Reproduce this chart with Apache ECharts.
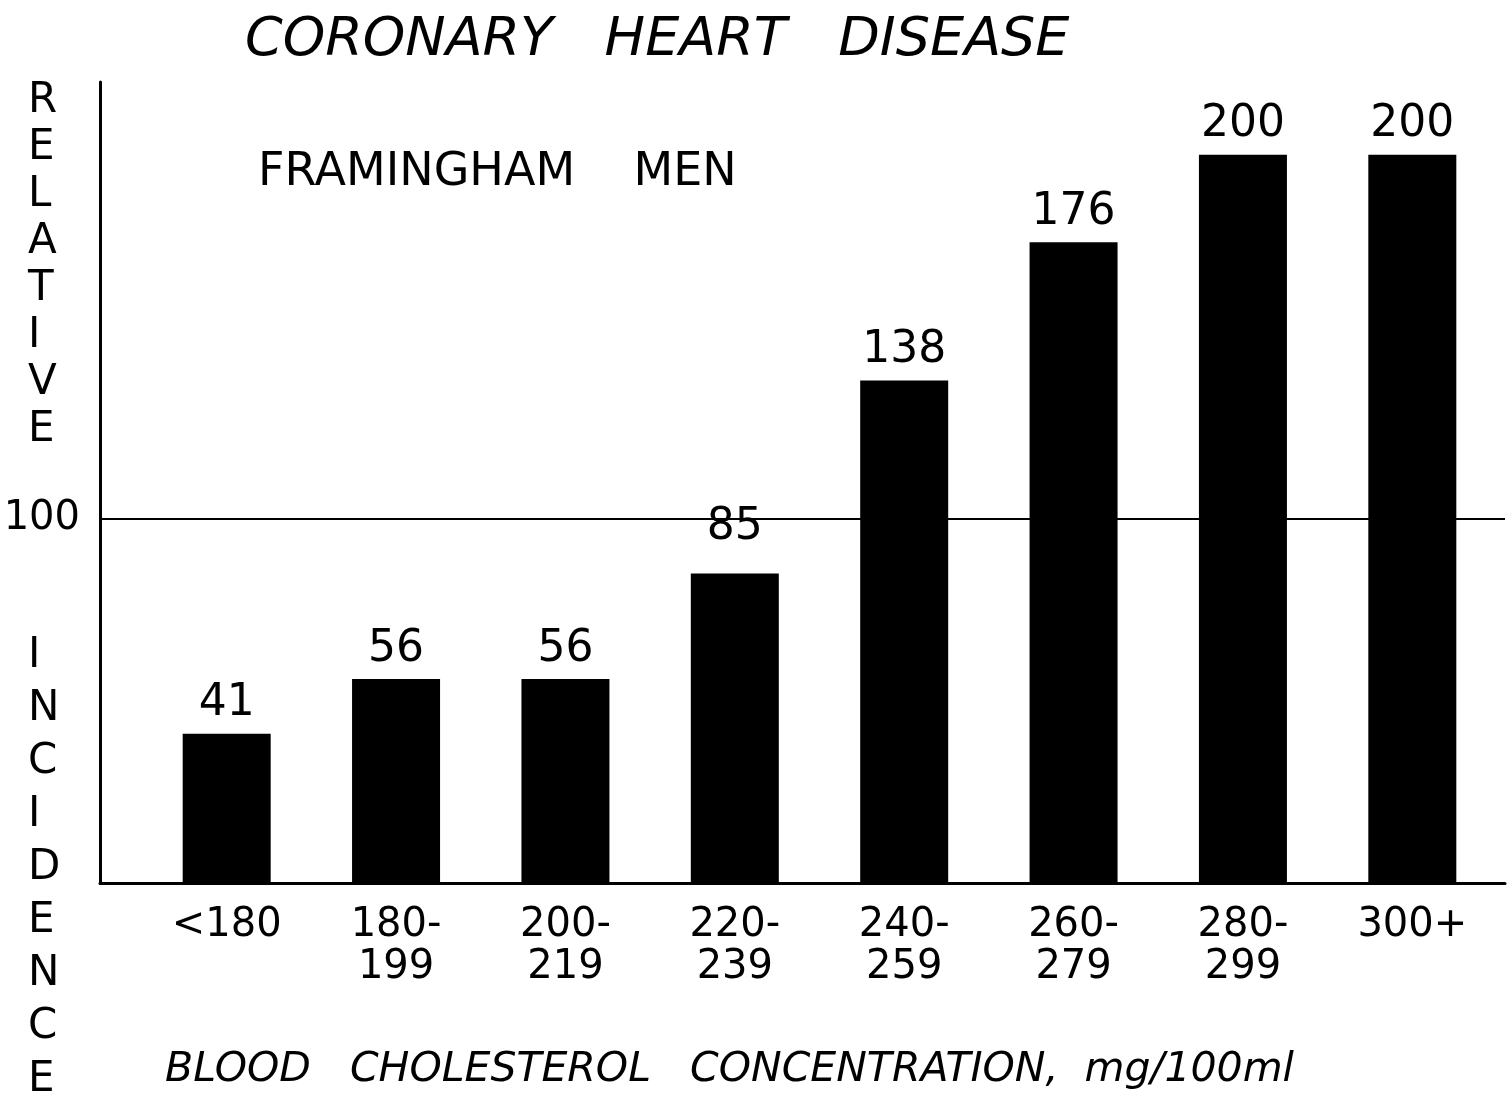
<!DOCTYPE html>
<html>
<head>
<meta charset="utf-8">
<script src="https://cdn.jsdelivr.net/npm/echarts@6/dist/echarts.min.js"></script>
<style>html,body{margin:0;padding:0;background:#fff}#c{width:1511px;height:1101px}</style>
</head>
<body>
<div id="c"></div>
<script>
const categories = ['<180', '180-\n199', '200-\n219', '220-\n239', '240-\n259', '260-\n279', '280-\n299', '300+'];
const incidence = [41, 56, 56, 85, 138, 176, 200, 200];
const referenceValue = 100;
const yTicks = [100];

const font = '"DejaVu Sans", sans-serif';
const chart = echarts.init(document.getElementById('c'));
const option = {
  backgroundColor: '#fff',
  animation: false,
  grid: [
    { left: 100, right: 6, top: 82, bottom: 218 },
    { left: 142, right: 14, top: 82, bottom: 218 }
  ],
  xAxis: [
    { gridIndex: 0, type: 'value', min: 0, max: 1,
      axisLine: { show: true, onZero: false, lineStyle: { color: '#000', width: 3 } },
      axisTick: { show: false }, axisLabel: { show: false }, splitLine: { show: false } },
    { gridIndex: 1, type: 'category', data: categories,
      axisLine: { show: false }, axisTick: { show: false },
      axisLabel: { margin: 22, fontSize: 40, lineHeight: 42, color: '#000', fontFamily: font, interval: 0 } }
  ],
  yAxis: [
    { gridIndex: 0, type: 'value', min: 0, max: 220, interval: 100,
      axisLine: { show: true, lineStyle: { color: '#000', width: 3 } },
      axisTick: { show: false }, splitLine: { show: false },
      axisLabel: { margin: 20, fontSize: 40, color: '#000', fontFamily: font,
        formatter: v => yTicks.includes(v) ? String(v) : '' } },
    { gridIndex: 1, type: 'value', min: 0, max: 220, show: false, splitLine: { show: false } }
  ],
  series: [
    { type: 'line', xAxisIndex: 0, yAxisIndex: 0, data: [], z: 1, silent: true,
      markLine: { silent: true, symbol: 'none', label: { show: false },
        lineStyle: { color: '#000', width: 2, type: 'solid' },
        data: [{ yAxis: referenceValue }] } },
    { type: 'bar', xAxisIndex: 1, yAxisIndex: 1, z: 3, barWidth: 88,
      itemStyle: { color: '#000' },
      label: { show: true, position: 'top', distance: 8, fontSize: 44, color: '#000', fontFamily: font },
      data: incidence.map((v, i) => i === 3
        ? { value: v, label: { backgroundColor: '#fff', padding: [2, 10], distance: 22 } }
        : v) }
  ],
  graphic: [
    { type: 'text', left: 245, top: 14,
      style: { text: 'CORONARY   HEART   DISEASE', font: 'italic 54px ' + font, fill: '#000' } },
    { type: 'text', left: 258, top: 150,
      style: { text: 'FRAMINGHAM    MEN', font: '46px ' + font, fill: '#000' } },
    { type: 'text', left: 28, top: 78,
      style: { text: 'RELATIVE'.split('').join('\n'), font: '42px ' + font, lineHeight: 47, fill: '#000', align: 'center', x: 18 } },
    { type: 'text', left: 28, top: 630,
      style: { text: 'INCIDENCE'.split('').join('\n'), font: '42px ' + font, lineHeight: 53, fill: '#000', align: 'center', x: 18 } },
    { type: 'text', left: 165, top: 1050,
      style: { text: 'BLOOD   CHOLESTEROL   CONCENTRATION,  mg/100ml', font: 'italic 41px ' + font, fill: '#000' } }
  ]
};
chart.setOption(option);
</script>
</body>
</html>
